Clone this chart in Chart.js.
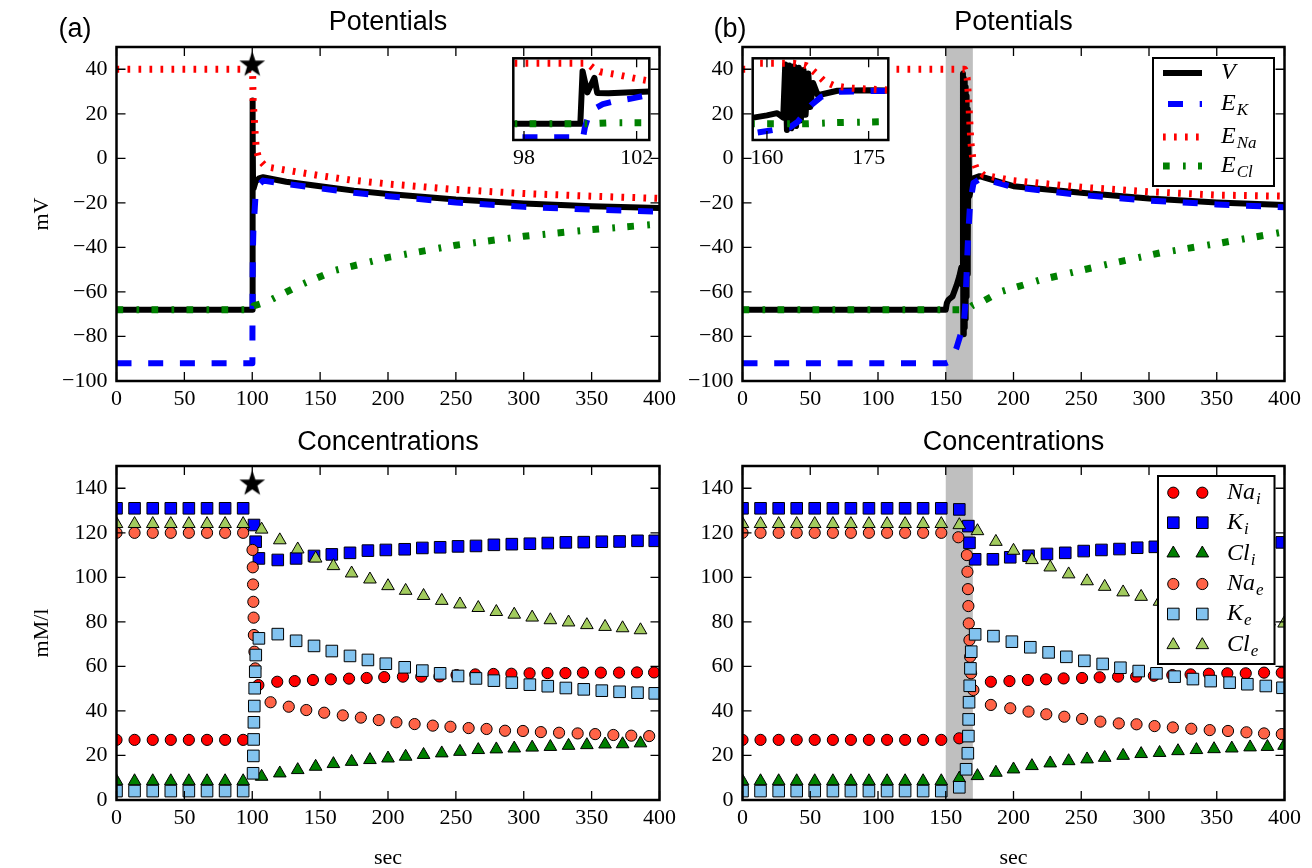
<!DOCTYPE html>
<html>
<head>
<meta charset="utf-8">
<script src="https://cdn.jsdelivr.net/npm/chart.js@4.4.1/dist/chart.umd.min.js"></script>
<style>
body{margin:0;background:#fff}
#fig{position:relative;width:1312px;height:868px;background:#fff;overflow:hidden}
#fig canvas{position:absolute}
</style>
</head>
<body>
<div id="fig">
<canvas id="potA" width="700" height="430" style="left:0;top:0"></canvas>
<canvas id="potB" width="642" height="430" style="left:670px;top:0"></canvas>
<canvas id="conA" width="700" height="438" style="left:0;top:430px"></canvas>
<canvas id="conB" width="642" height="438" style="left:670px;top:430px"></canvas>
<canvas id="insA" width="180" height="140" style="left:490px;top:40px"></canvas>
<canvas id="insB" width="180" height="140" style="left:730px;top:40px"></canvas>
</div>
<script>
// ticks
const timeTicks = [0,50,100,150,200,250,300,350,400];
const mvTicks = [-100,-80,-60,-40,-20,0,20,40];
const mmTicks = [0,20,40,60,80,100,120,140];
const insTicksA = [98,102];
const insTicksB = [160,175];
const shadeB = [150,170];

// potentials (mV), [sec, value]
const vA = [[0,-68],[100,-68],[100.08,26],[100.25,-12],[100.5,14],[100.6,-13],[101,-13.5],[102.45,-10.5],[105,-9],[108,-8.5],[125,-10.5],[150,-12.5],[175,-14.5],[200,-16],[250,-18.5],[300,-20.3],[350,-21.5],[400,-22.3]];
const ekA = [[0,-92],[100.1,-92],[100.16,-75],[100.3,-52],[100.46,-42],[100.8,-33],[101.2,-28],[101.76,-23.4],[102.35,-17.3],[104,-12.5],[108,-10],[125,-11.5],[150,-13.5],[175,-15.5],[200,-17],[250,-19.8],[300,-21.8],[350,-23],[400,-24]];
const enaA = [[0,40],[100.25,40],[100.5,30],[100.7,25],[101.35,19.4],[102.1,11.5],[103,4],[105,-0.5],[110,-3.8],[130,-5.8],[150,-7.8],[172,-9.7],[200,-11.5],[250,-14],[300,-15.8],[350,-17],[400,-18]];
const eclA = [[0,-68],[100.3,-68],[101,-66.3],[111,-64.4],[135,-57],[161,-50.3],[200,-44.5],[250,-39],[300,-35],[350,-32],[400,-29.5]];

const vB = [[0,-68],[150,-68],[150.8,-65],[152,-63.5],[155,-62],[158,-57],[160,-53],[161.5,-49],[162.4,-57],[162.7,38],[162.95,-79],[163.3,36],[163.6,-76],[164,35],[164.3,-72],[164.7,32],[165,-62],[165.4,28],[165.7,-52],[166.1,22],[166.4,-38],[166.8,5],[167.5,-17],[170.4,-9],[175,-8],[178,-8.5],[200,-12.5],[250,-15.5],[300,-18],[350,-19.8],[400,-21]];
const ekB = [[0,-92],[150,-92],[154,-91],[158,-85],[161,-79],[163.3,-75],[164.5,-65],[165.5,-50],[166.5,-35],[168,-20],[170.5,-11],[176,-9],[200,-13],[250,-16.5],[300,-19],[350,-20.7],[400,-22]];
const enaB = [[0,40],[164,40],[165.8,36],[166.5,30],[167.2,22.7],[168.5,7.5],[170,-0.4],[172.5,-4.5],[178,-7.6],[200,-10],[250,-13],[300,-15],[350,-16.5],[400,-17]];
const eclB = [[0,-68],[166,-68],[170,-66],[178,-64],[190,-60],[220,-54.6],[264,-48.3],[308,-42.5],[353,-38],[400,-33]];

// concentrations (mM/l), [sec, value]
const naIA = [[0,27],[13.3,27],[26.7,27],[40,27],[53.3,27],[66.7,27],[80,27],[93.3,27],[104.5,51.6],[118.4,53.1],[131.3,53.4],[144.7,53.9],[157.9,54.2],[171.3,54.5],[184.3,54.8],[197.2,55.2],[211,55.4],[224.5,55.4],[237.9,55.5],[250.5,56.1],[264.3,56.4],[277.7,56.6],[290.9,56.7],[304.3,56.9],[317.5,57],[330.7,57],[343.6,57.2],[356.8,57.2],[370.2,57.2],[383.4,57.3],[396,57.3]];
const kIA = [[0,131],[13.3,131],[26.7,131],[40,131],[53.3,131],[66.7,131],[80,131],[93.3,131],[101.3,123.5],[102.5,116],[104.9,108.5],[118.8,107.8],[132.3,108.5],[145.5,109.6],[158.6,110.3],[172,111],[185.2,112],[198.4,112.3],[212.3,112.6],[225.3,113.2],[238.4,113.5],[251.6,113.9],[264.8,114.1],[278,114.6],[291.2,114.9],[304.5,115.1],[317.7,115.4],[331,115.7],[344.2,115.8],[357.5,116],[370.6,116.1],[383.8,116.4],[396.5,116.4]];
const clIA = [[0,8.5],[13.3,8.5],[26.7,8.5],[40,8.5],[53.3,8.5],[66.7,8.5],[80,8.5],[93.3,8.5],[106.9,10.5],[120.3,12],[133.5,13.5],[146.7,15],[159.8,16.2],[173.2,17.2],[186.7,18],[200,18.7],[213,19.5],[226.2,20.3],[239.6,21],[253,21.7],[266.5,22.5],[279.8,22.8],[293,23.2],[306.2,23.6],[319.6,23.9],[333,24.4],[346.5,24.7],[359.9,25],[372.8,25.1],[386,25.5]];
const naEA = [[0,120],[13.3,120],[26.7,120],[40,120],[53.3,120],[66.7,120],[80,120],[93.3,120],[100.2,112.3],[100.4,104.5],[100.6,96.8],[100.8,89],[101,81.9],[101.2,74.1],[101.6,66.6],[102.2,59.1],[113.5,43.9],[126.9,41.9],[139.8,40.4],[153,39.2],[166.7,38],[180,37],[193.2,35.9],[206.2,34.9],[219.6,34.1],[233,33.4],[246,32.9],[259.4,32.3],[272.6,31.9],[286.2,31.1],[299.4,31],[312.6,30.5],[326,30.2],[339.7,29.9],[352.6,29.6],[366,29.2],[379.2,28.9],[392.4,28.7]];
const kEA = [[0,4],[13.3,4],[26.7,4],[40,4],[53.3,4],[66.7,4],[80,4],[93.3,4],[100.6,12],[100.8,19.8],[101,27.2],[101.2,34.9],[101.5,42.2],[101.8,50.2],[102.2,57.6],[102.6,65.1],[104.9,72.6],[118.8,74.5],[132.3,71.5],[145.5,69.2],[158.6,66.9],[172,64.7],[185.2,62.9],[198.4,61.2],[212.3,59.6],[225.3,58.1],[238.4,56.9],[251.6,55.7],[264.8,54.6],[278,53.6],[291.2,52.7],[304.5,51.8],[317.7,51.1],[331,50.3],[344.2,49.7],[357.5,49.1],[370.6,48.6],[383.8,48.2],[396.5,47.9]];
const clEA = [[0,124],[13.3,124],[26.7,124],[40,124],[53.3,124],[66.7,124],[80,124],[93.3,124],[106.9,121.5],[120.3,116.7],[133.5,112.6],[146.7,108.5],[159.8,105.1],[173.2,101.8],[186.7,99.1],[200,96.1],[213,94],[226.2,91.7],[239.6,89.5],[253,87.9],[266.5,86.3],[279.8,84.5],[293,83.3],[306.2,82],[319.6,80.8],[333,79.8],[346.5,78.6],[359.9,77.8],[372.8,77.2],[386,76.3]];

const naIB = [[0,27],[13.3,27],[26.7,27],[40,27],[53.3,27],[66.7,27],[80,27],[93.3,27],[106.7,27],[120,27],[133.3,27],[146.7,27],[160,27.7],[183.3,53.1],[197,53.4],[210.6,53.9],[224,54.2],[237,54.6],[250.6,54.8],[263.6,55.1],[277.2,55.4],[290.5,55.4],[303.6,55.8],[317.2,56.1],[330.7,56.4],[344.2,56.7],[357.8,56.9],[371.4,56.9],[384.9,57.2],[398,57.2]];
const kIB = [[0,131],[13.3,131],[26.7,131],[40,131],[53.3,131],[66.7,131],[80,131],[93.3,131],[106.7,131],[120,131],[133.3,131],[146.7,131],[160,130.5],[166.7,123],[167.5,115.5],[171.7,108.1],[184.8,108.1],[197.6,109],[211.1,109.7],[224.7,110.5],[238.2,111],[251.8,111.8],[264.9,112.3],[278.2,112.7],[291.3,113.3],[304.3,113.7],[317.6,114],[331,114.3],[344.5,114.6],[358,115],[371.5,115.2],[385,115.5],[398,115.7]];
const clIB = [[0,8.5],[13.3,8.5],[26.7,8.5],[40,8.5],[53.3,8.5],[66.7,8.5],[80,8.5],[93.3,8.5],[106.7,8.5],[120,8.5],[133.3,8.5],[146.7,8.5],[160,9.7],[173.4,10.8],[187,12.3],[200,13.8],[213.6,15.3],[227.1,16.5],[240.7,17.5],[254.3,18.3],[267.3,19],[280.9,19.9],[294.2,20.7],[307.8,21.2],[321.4,22],[335,22.5],[348,22.9],[361.1,23.2],[374.6,23.7],[387.4,23.9],[399.7,24.4]];
const naEB = [[0,120],[13.3,120],[26.7,120],[40,120],[53.3,120],[66.7,120],[80,120],[93.3,120],[106.7,120],[120,120],[133.3,120],[146.7,120],[159.3,118],[165.6,110],[166,102.5],[166.4,94.7],[166.7,87.1],[167,79.3],[167.5,71.8],[168,64.3],[168.7,56.9],[170.4,49.4],[183.3,42.7],[197.6,41.2],[211.1,39.7],[224.2,38.5],[237.5,37.4],[250.6,36.4],[264.1,35.2],[277.7,34.4],[290.8,34],[304.1,33.2],[317.6,32.6],[331.2,32],[344.8,31.4],[358.3,31],[371.9,30.4],[384.9,29.9],[398,29.6]];
const kEB = [[0,4],[13.3,4],[26.7,4],[40,4],[53.3,4],[66.7,4],[80,4],[93.3,4],[106.7,4],[120,4],[133.3,4],[146.7,4],[160,5.7],[165,13.8],[166.3,21],[166.7,28.7],[166.9,36.2],[167.2,43.9],[167.7,51.3],[168.2,59.1],[168.8,66.6],[171.7,74.4],[185.2,73.6],[198.8,71.1],[212.4,68.6],[225.9,66.3],[239,64.3],[252.3,62.5],[265.8,61.1],[278.9,59.4],[292.4,57.9],[305.5,56.9],[318.9,55.4],[332.4,54.3],[345.5,53.4],[359.5,52.7],[372.6,52],[386.2,51.2],[398.5,50.4]];
const clEB = [[0,124],[13.3,124],[26.7,124],[40,124],[53.3,124],[66.7,124],[80,124],[93.3,124],[106.7,124],[120,124],[133.3,124],[146.7,124],[160,123.5],[173.4,120.8],[187,116],[200,112],[213.6,107.8],[227.1,104.5],[240.7,101.4],[254.3,98.3],[267.3,95.8],[280.9,93.3],[294.2,91.3],[307.8,89.1],[321.4,87.2],[335,85.5],[348,84],[361.5,82.6],[375,81.3],[388.6,80.2],[399.7,79.3]];

// stimulus stars
const starPot = [[100,42]];
const starCon = [[100,142]];

const potLabels = [['V',''],['E','K'],['E','Na'],['E','Cl']];
const conLabels = [['Na','i'],['K','i'],['Cl','i'],['Na','e'],['K','e'],['Cl','e']];

const SERIF = "'Liberation Serif', 'Times New Roman', serif";
const SANS = "'Liberation Sans', Arial, sans-serif";
const tickFont = {family: SERIF, size: 22};

function fmt(v){ return v < 0 ? '\u2212' + (-v) : String(v); }

function starImg(r){
  const c = document.createElement('canvas');
  c.width = c.height = 2*r + 2;
  const g = c.getContext('2d');
  g.fillStyle = '#000';
  g.beginPath();
  for(let i=0;i<10;i++){
    const a = -Math.PI/2 + i*Math.PI/5, rr = i%2 ? r*0.4 : r;
    g.lineTo(r+1+rr*Math.cos(a), r+1+rr*Math.sin(a));
  }
  g.closePath(); g.fill();
  return c;
}
const STAR = starImg(13.5);

function marker(ctx, d, x, y){
  const r = d.pointRadius;
  ctx.save();
  ctx.fillStyle = d.pointBackgroundColor; ctx.strokeStyle = '#000'; ctx.lineWidth = 1;
  ctx.beginPath();
  if (d.pointStyle === 'circle') ctx.arc(x, y, r, 0, 2*Math.PI);
  else if (d.pointStyle === 'rect'){ const s = r*Math.SQRT1_2; ctx.rect(x-s, y-s, 2*s, 2*s); }
  else { ctx.moveTo(x, y-r); ctx.lineTo(x+r*0.866, y+r/2); ctx.lineTo(x-r*0.866, y+r/2); ctx.closePath(); }
  ctx.fill(); ctx.stroke();
  ctx.restore();
}

function mathLabel(ctx, lab, x, y){
  ctx.fillStyle = '#000';
  ctx.textAlign = 'left'; ctx.textBaseline = 'middle';
  ctx.font = 'italic 24px ' + SERIF;
  ctx.fillText(lab[0], x, y);
  const w = ctx.measureText(lab[0]).width;
  if (lab[1]){ ctx.font = 'italic 17px ' + SERIF; ctx.fillText(lab[1], x + w + 1, y + 7); }
}

function drawLegend(chart, lg){
  const ctx = chart.ctx, ds = chart.data.datasets;
  const [bx, by, bw, bh] = lg.box;
  ctx.save();
  ctx.fillStyle = '#fff'; ctx.fillRect(bx, by, bw, bh);
  ctx.lineWidth = 2; ctx.strokeStyle = '#000'; ctx.strokeRect(bx, by, bw, bh);
  lg.rows.forEach((y, i) => {
    const d = ds[i];
    if (lg.kind === 'line'){
      ctx.save();
      ctx.strokeStyle = d.borderColor; ctx.lineWidth = d.borderWidth;
      ctx.setLineDash(d.borderDash || []); ctx.lineDashOffset = lg.offsets[i];
      ctx.beginPath(); ctx.moveTo(lg.x0, y); ctx.lineTo(lg.x1, y); ctx.stroke();
      ctx.restore();
    } else {
      lg.mx.forEach(mx => marker(ctx, d, mx, y));
    }
    mathLabel(ctx, lg.labels[i], lg.tx, y);
  });
  ctx.restore();
}

const frame = {
  id: 'frame',
  beforeDraw(chart, args, o){
    const ar = chart.chartArea, ctx = chart.ctx;
    ctx.save();
    if (o.bg){ ctx.fillStyle = o.bg; ctx.fillRect(ar.left, ar.top, ar.right-ar.left, ar.bottom-ar.top); }
    if (o.shade){
      const x = chart.scales.x;
      const x1 = x.getPixelForValue(o.shade[0]), x2 = x.getPixelForValue(o.shade[1]);
      ctx.fillStyle = '#bfbfbf'; ctx.fillRect(x1, ar.top, x2-x1, ar.bottom-ar.top);
    }
    ctx.restore();
  },
  afterDatasetsDraw(chart, args, o){ if (o.legend) drawLegend(chart, o.legend); },
  afterDraw(chart, args, o){
    const {ctx, chartArea: ar, scales} = chart;
    const L = 9;
    ctx.save();
    ctx.strokeStyle = '#000'; ctx.lineWidth = 1.3;
    ctx.beginPath();
    scales.x.ticks.forEach(t => {
      const p = scales.x.getPixelForValue(t.value);
      ctx.moveTo(p, ar.bottom); ctx.lineTo(p, ar.bottom - L);
      ctx.moveTo(p, ar.top); ctx.lineTo(p, ar.top + L);
    });
    if (o.yTicks !== false) scales.y.ticks.forEach(t => {
      const p = scales.y.getPixelForValue(t.value);
      ctx.moveTo(ar.left, p); ctx.lineTo(ar.left + L, p);
      ctx.moveTo(ar.right, p); ctx.lineTo(ar.right - L, p);
    });
    ctx.stroke();
    ctx.lineWidth = 2.5;
    ctx.strokeRect(ar.left, ar.top, ar.right-ar.left, ar.bottom-ar.top);
    (o.texts || []).forEach(t => {
      ctx.save();
      ctx.font = t.font; ctx.fillStyle = '#000';
      ctx.textAlign = 'center'; ctx.textBaseline = 'middle';
      const x = t.x === 'mid' ? (ar.left + ar.right)/2 : t.x;
      ctx.translate(x, t.y);
      if (t.rot) ctx.rotate(t.rot);
      ctx.fillText(t.text, 0, 0);
      ctx.restore();
    });
    ctx.restore();
  }
};
Chart.register(frame);

function xAxis(min, max, ticks, h){
  return {type:'linear', min, max,
    afterBuildTicks: s => { s.ticks = ticks.map(v => ({value: v})); },
    afterFit: s => { s.height = h; },
    grid:{display:false, drawTicks:false}, border:{display:false},
    ticks:{color:'#000', font:tickFont, padding:5, maxRotation:0, autoSkip:false, callback: fmt}};
}
function yAxis(min, max, ticks, w, show){
  return {type:'linear', min, max, display: show,
    afterBuildTicks: s => { s.ticks = ticks.map(v => ({value: v})); },
    afterFit: s => { s.width = w; },
    grid:{display:false, drawTicks:false}, border:{display:false},
    ticks:{color:'#000', font:tickFont, padding:9, autoSkip:false, callback: fmt}};
}

function lineDs(data, color, width, dash, order){
  return {type:'line', data, borderColor:color, borderWidth:width, borderDash:dash,
    pointRadius:0, fill:false, tension:0, order, clip:0, borderCapStyle:'butt', borderJoinStyle:'round'};
}
function potSets(v, ek, ena, ecl){
  return [
    lineDs(v, '#000000', 6, [], 4),
    lineDs(ek, '#0000ff', 6, [15, 16.7], 3),
    lineDs(ena, '#ff0000', 7, [2.7, 8.3], 2),
    lineDs(ecl, '#008000', 7, [6.7, 13.3, 2.7, 12.3], 1)
  ];
}
function ptDs(data, style, r, color, order){
  return {type:'scatter', data, showLine:false, pointStyle:style, pointRadius:r,
    pointBackgroundColor:color, pointBorderColor:'#000', pointBorderWidth:1, order, clip:0};
}
function conSets(naI, kI, clI, naE, kE, clE){
  return [
    ptDs(naI, 'circle', 5.6, '#ff0000', 6),
    ptDs(kI, 'rect', 8.2, '#0000ff', 5),
    ptDs(clI, 'triangle', 7.3, '#007f00', 4),
    ptDs(naE, 'circle', 5.6, '#ff6347', 3),
    ptDs(kE, 'rect', 8.2, '#82c3ef', 2),
    ptDs(clE, 'triangle', 7.3, '#a2cb5e', 1)
  ];
}
function starDs(data){
  return {type:'scatter', data, showLine:false, pointStyle:STAR, pointRadius:13, order:0, clip:false};
}

const base = {responsive:false, animation:false, events:[], devicePixelRatio:1};

// (a) potentials
new Chart(document.getElementById('potA'), {
  type:'line',
  data:{datasets:[...potSets(vA, ekA, enaA, eclA), starDs(starPot)]},
  options:{...base,
    layout:{padding:{left:0, top:47, right:40.5, bottom:0}},
    scales:{x:xAxis(0, 400, timeTicks, 49), y:yAxis(-100, 50, mvTicks, 116.5, true)},
    plugins:{legend:{display:false}, tooltip:{enabled:false},
      frame:{texts:[
        {text:'(a)', x:75, y:30, font:'27px ' + SANS},
        {text:'Potentials', x:'mid', y:23, font:'27px ' + SANS},
        {text:'mV', x:42, y:214, rot:-Math.PI/2, font:'22px ' + SERIF}
      ]}}}
});

// (b) potentials
new Chart(document.getElementById('potB'), {
  type:'line',
  data:{datasets:potSets(vB, ekB, enaB, eclB)},
  options:{...base,
    layout:{padding:{left:0, top:47, right:27.5, bottom:0}},
    scales:{x:xAxis(0, 400, timeTicks, 49), y:yAxis(-100, 50, mvTicks, 72.5, true)},
    plugins:{legend:{display:false}, tooltip:{enabled:false},
      frame:{shade:shadeB,
        legend:{kind:'line', box:[483, 58, 121, 128], rows:[73, 104, 137, 166],
          x0:493, x1:532, tx:551, offsets:[0, 26.7, 0, 0], labels:potLabels},
        texts:[
          {text:'(b)', x:60, y:30, font:'27px ' + SANS},
          {text:'Potentials', x:'mid', y:23, font:'27px ' + SANS}
        ]}}}
});

// (a) concentrations
new Chart(document.getElementById('conA'), {
  type:'scatter',
  data:{datasets:[...conSets(naIA, kIA, clIA, naEA, kEA, clEA), starDs(starCon)]},
  options:{...base,
    layout:{padding:{left:0, top:36, right:40.5, bottom:0}},
    scales:{x:xAxis(0, 400, timeTicks, 68), y:yAxis(0, 150, mmTicks, 116.5, true)},
    plugins:{legend:{display:false}, tooltip:{enabled:false},
      frame:{texts:[
        {text:'Concentrations', x:'mid', y:13, font:'27px ' + SANS},
        {text:'mM/l', x:42, y:203, rot:-Math.PI/2, font:'22px ' + SERIF},
        {text:'sec', x:'mid', y:428, font:'22px ' + SERIF}
      ]}}}
});

// (b) concentrations
new Chart(document.getElementById('conB'), {
  type:'scatter',
  data:{datasets:conSets(naIB, kIB, clIB, naEB, kEB, clEB)},
  options:{...base,
    layout:{padding:{left:0, top:36, right:27.5, bottom:0}},
    scales:{x:xAxis(0, 400, timeTicks, 68), y:yAxis(0, 150, mmTicks, 72.5, true)},
    plugins:{legend:{display:false}, tooltip:{enabled:false},
      frame:{shade:shadeB,
        legend:{kind:'marker', box:[488, 46, 116.5, 188], rows:[62.7, 92.7, 123.3, 154, 184, 215],
          mx:[503.3, 532.3], tx:557, labels:conLabels},
        texts:[
          {text:'Concentrations', x:'mid', y:13, font:'27px ' + SANS},
          {text:'sec', x:'mid', y:428, font:'22px ' + SERIF}
        ]}}}
});

// insets
new Chart(document.getElementById('insA'), {
  type:'line',
  data:{datasets:potSets(vA, ekA, enaA, eclA)},
  options:{...base,
    layout:{padding:{left:23.3, top:18.3, right:20.7, bottom:0}},
    scales:{x:xAxis(97.62, 102.45, insTicksA, 40), y:yAxis(-97, 49, [], 0, false)},
    plugins:{legend:{display:false}, tooltip:{enabled:false}, frame:{bg:'#fff', yTicks:false}}}
});
new Chart(document.getElementById('insB'), {
  type:'line',
  data:{datasets:potSets(vB, ekB, enaB, eclB)},
  options:{...base,
    layout:{padding:{left:22.7, top:18.3, right:21.7, bottom:0}},
    scales:{x:xAxis(157.9, 177.9, insTicksB, 40), y:yAxis(-97, 49, [], 0, false)},
    plugins:{legend:{display:false}, tooltip:{enabled:false}, frame:{bg:'#fff', yTicks:false}}}
});
</script>
</body>
</html>
